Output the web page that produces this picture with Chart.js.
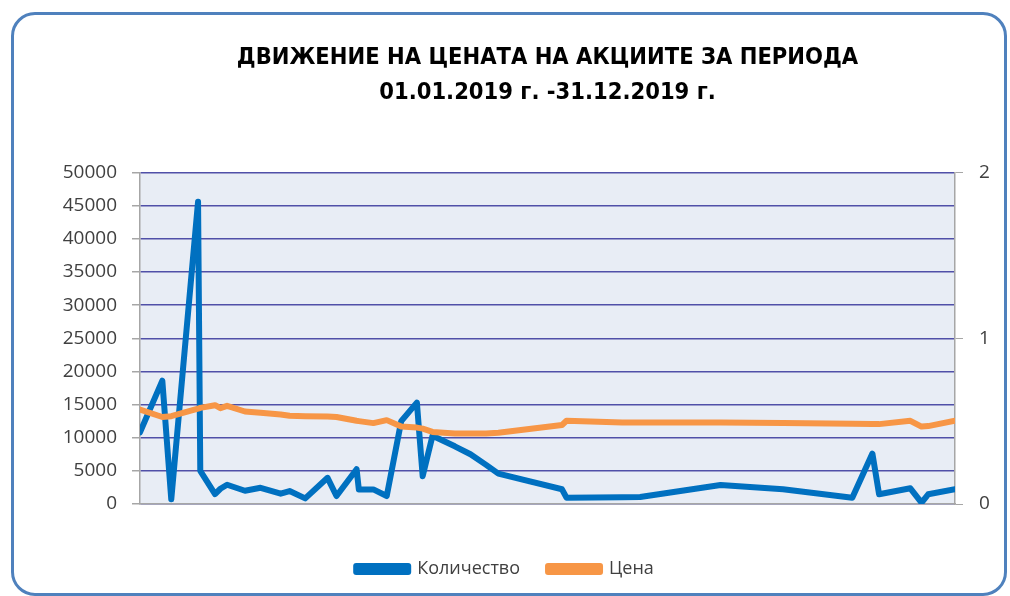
<!DOCTYPE html>
<html>
<head>
<meta charset="utf-8">
<script src="https://cdn.jsdelivr.net/npm/chart.js@4"></script>
<style>
    body { margin: 0; background: #fff; }
    #wrap { position: relative; width: 1010px; height: 596px; }
    #frame {
        position: absolute; left: 11px; top: 12px; width: 996px; height: 584px;
        box-sizing: border-box; border: 3px solid #4F81BD; border-radius: 24px;
    }
    canvas { position: absolute; left: 0; top: 0; }
</style>
</head>
<body>
<div id="wrap">
    <div id="frame"></div>
    <canvas id="chart" width="1010" height="596"></canvas>
</div>
<script>
// Day of the year (0 = 01.01.2019, 365 = 31.12.2019)
const days = [0, 10, 14, 26, 27, 33.6, 36, 39, 47, 54, 63, 67, 74, 84, 88, 97, 98, 104.5, 110.5,
    117, 124, 126.6, 131, 141, 148, 155, 160.5, 189, 191, 216, 224, 260, 288, 319, 328, 331, 345, 350, 353, 365];

// Количество (left axis)
const quantity = [10800, 18600, 700, 45600, 5000, 1500, 2300, 2900, 2000, 2450, 1550, 1950, 850, 3950, 1200, 5250, 2200, 2200, 1200,
    12500, 15300, 4200, 10300, 8700, 7500, 5900, 4580, 2220, 950, 1000, 1060, 2870, 2220, 950, 7600, 1460, 2370, 200, 1460, 2220];

// Цена (right axis)
const price = [0.57, 0.525, 0.53, 0.575, 0.58, 0.596, 0.578, 0.592, 0.558, 0.55, 0.54, 0.532, 0.53, 0.528, 0.525, 0.502, 0.50, 0.488, 0.506,
    0.467, 0.461, 0.455, 0.435, 0.425, 0.425, 0.425, 0.43, 0.477, 0.502, 0.491, 0.491, 0.491, 0.488, 0.484, 0.482, 0.482, 0.502, 0.467, 0.47, 0.502];

const titleLines = ['ДВИЖЕНИЕ НА ЦЕНАТА НА АКЦИИТЕ ЗА ПЕРИОДА', '01.01.2019 г. -31.12.2019 г.'];

const tickFont = { family: 'Open Sans', size: 19 };

// Plot area background
const plotBackground = {
    id: 'plotBackground',
    beforeDraw(chart) {
        const { ctx, chartArea: a } = chart;
        ctx.save();
        ctx.fillStyle = '#E8EDF5';
        ctx.fillRect(a.left, a.top, a.right - a.left, a.bottom - a.top);
        ctx.restore();
    }
};

const ctx = document.getElementById('chart').getContext('2d');
new Chart(ctx, {
    type: 'line',
    data: {
        datasets: [{
            label: 'Количество',
            data: days.map((d, i) => ({ x: d, y: quantity[i] })),
            borderColor: '#0070C0',
            backgroundColor: '#0070C0',
            borderWidth: 6,
            yAxisID: 'y',
            order: 1
        }, {
            label: 'Цена',
            data: days.map((d, i) => ({ x: d, y: price[i] })),
            borderColor: '#F79646',
            backgroundColor: '#F79646',
            borderWidth: 6,
            yAxisID: 'y2',
            order: 0
        }]
    },
    options: {
        responsive: false,
        animation: false,
        elements: {
            point: { radius: 0 },
            line: { tension: 0, borderJoinStyle: 'round', borderCapStyle: 'round' }
        },
        layout: { padding: { top: 0, bottom: 8, left: 0, right: 0 } },
        scales: {
            x: {
                type: 'linear',
                min: 0,
                max: 365,
                ticks: { display: false },
                grid: { display: false },
                border: { color: '#A6A6A6', width: 1.5 },
                afterFit(scale) { scale.height = 28; }
            },
            y: {
                position: 'left',
                min: 0,
                max: 50000,
                ticks: { stepSize: 5000, color: '#404040', font: tickFont, padding: 15, callback: v => String(v) },
                grid: { color: '#5050A8', lineWidth: 1.5, tickColor: '#A6A6A6', tickLength: 8 },
                border: { color: '#A6A6A6', width: 1.5 },
                afterFit(scale) { scale.width = 140; }
            },
            y2: {
                position: 'right',
                min: 0,
                max: 2,
                ticks: { stepSize: 1, color: '#404040', font: tickFont, padding: 16 },
                grid: { drawOnChartArea: false, tickColor: '#A6A6A6', tickLength: 8 },
                border: { color: '#A6A6A6', width: 1.5 },
                afterFit(scale) { scale.width = 55; }
            }
        },
        plugins: {
            title: {
                display: true,
                fullSize: false, // centred over the plot area, as in the original
                text: titleLines,
                color: '#000',
                font: { family: 'DejaVu Sans Condensed', weight: 'bold', size: 23.5, lineHeight: 1.5 },
                padding: { top: 40, bottom: 62 }
            },
            legend: {
                position: 'bottom',
                labels: {
                    color: '#404040',
                    font: { family: 'Open Sans', size: 18 },
                    boxWidth: 52,
                    boxHeight: 6,
                    padding: 28,
                    sort: (a, b) => a.datasetIndex - b.datasetIndex
                }
            },
            tooltip: { enabled: false }
        }
    },
    plugins: [plotBackground]
});
</script>
</body>
</html>
